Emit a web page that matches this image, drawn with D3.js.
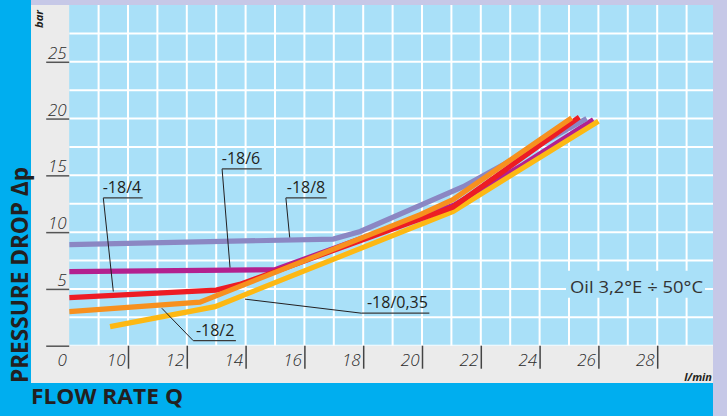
<!DOCTYPE html>
<html><head><meta charset="utf-8">
<script src="https://cdn.jsdelivr.net/npm/d3@7"></script>
<style>html,body{margin:0;padding:0;background:#c6c8e7;}svg{display:block;}</style>
</head><body>
<svg id="chart" width="727" height="416"></svg>
<script>
// ---- data (flow rate l/min, pressure drop bar) ----
const xTicks = [10, 12, 14, 16, 18, 20, 22, 24, 26, 28];
const yTicks = [0, 5, 10, 15, 20, 25];
const seriesNames = ["-18/8", "-18/6", "-18/4", "-18/2", "-18/0,35"];
const curve18_8   = [[8, 8.9], [16.98, 9.39], [17.9, 10.06], [21.4, 14.0], [25.6, 20.0]];
const curve18_6   = [[8, 6.53], [15.0, 6.7], [21.1, 12.4], [23.45, 15.95], [25.83, 19.9]];
const curve18_4   = [[8, 4.24], [13.0, 4.9], [13.8, 5.4], [21.05, 12.2], [25.35, 20.12]];
const curve18_2   = [[8, 3.0], [12.45, 3.83], [19.94, 11.54], [21.05, 12.86], [25.09, 20.07]];
const curve18_035 = [[9.39, 1.68], [12.96, 3.44], [21.06, 11.83], [26.0, 19.77]];
// annotation leaders: [point on curve, underline start, underline end]
const leader18_8   = [[15.5, 9.53], [15.37, 13.01], [16.76, 13.01]];
const leader18_6   = [[13.47, 6.88], [13.2, 15.57], [14.55, 15.57]];
const leader18_4   = [[9.5, 4.77], [9.16, 13.01], [10.5, 13.01]];
const leader18_2   = [[11.15, 3.3], [12.22, 0.44], [13.67, 0.44]];
const leader18_035 = [[13.98, 4.1], [17.95, 2.86], [20.25, 2.86]];
const oilNote = "Oil 3,2°E ÷ 50°C";

// ---- layout ----
const svg = d3.select("#chart");
const plot = {left: 69.2, right: 713, top: 5, bottom: 345.7};
const x = d3.scaleLinear().domain([8, 30]).range([69.2, 716.0]);
const y = d3.scaleLinear().domain([0, 30]).range([345.7, 5.0]);
const FONT = "'Open Sans', 'Noto Sans', sans-serif";
const INK = "#231f20";

// backgrounds
svg.append("rect").attr("x", 0).attr("y", 0).attr("width", 727).attr("height", 416).attr("fill", "#c6c8e7");
svg.append("rect").attr("x", 0).attr("y", 0).attr("width", 31).attr("height", 416).attr("fill", "#00aeef");
svg.append("rect").attr("x", 0).attr("y", 383).attr("width", 713).attr("height", 33).attr("fill", "#00aeef");
svg.append("rect").attr("x", 31).attr("y", 5).attr("width", 682).attr("height", 378).attr("fill", "#ebebeb");
svg.append("rect").attr("x", plot.left).attr("y", plot.top)
  .attr("width", plot.right - plot.left).attr("height", plot.bottom - plot.top).attr("fill", "#a9e0f8");

svg.append("clipPath").attr("id", "clip").append("rect")
  .attr("x", plot.left).attr("y", plot.top)
  .attr("width", plot.right - plot.left).attr("height", plot.bottom - plot.top);

// grid
const grid = svg.append("g").attr("clip-path", "url(#clip)");
const vGrid = d3.range(9, 31, 1);
const hGrid = d3.range(0, 30, 2.5);
grid.selectAll(".vg").data(vGrid).join("line")
  .attr("x1", d => x(d)).attr("x2", d => x(d)).attr("y1", plot.top).attr("y2", plot.bottom)
  .attr("stroke", "#fff").attr("stroke-width", 2);
grid.selectAll(".hg").data(hGrid).join("line")
  .attr("x1", plot.left).attr("x2", plot.right).attr("y1", d => y(d)).attr("y2", d => y(d))
  .attr("stroke", "#fff").attr("stroke-width", 2);

// oil note box (hides grid)
const oilBox = {q: 25.0, p: 6.6};
svg.append("rect").attr("x", x(oilBox.q) - 3).attr("y", y(oilBox.p))
  .attr("width", 139).attr("height", 27).attr("fill", "#a9e0f8");
svg.append("text").attr("x", x(oilBox.q) + 1).attr("y", y(oilBox.p) + 22)
  .attr("font-family", FONT).attr("font-size", 17).attr("fill", "#333")
  .attr("textLength", 133).attr("lengthAdjust", "spacingAndGlyphs")
  .text(oilNote);

// curves
const line = d3.line().x(d => x(d[0])).y(d => y(d[1]));
const curves = [
  {name: seriesNames[1], data: curve18_6, color: "#b3208f"},
  {name: seriesNames[0], data: curve18_8, color: "#8b87c3"},
  {name: seriesNames[4], data: curve18_035, color: "#fdb813"},
  {name: seriesNames[2], data: curve18_4, color: "#ed1c24"},
  {name: seriesNames[3], data: curve18_2, color: "#f7901e"}
];
const cg = svg.append("g").attr("clip-path", "url(#clip)");
cg.selectAll("path").data(curves).join("path")
  .attr("d", d => line(d.data)).attr("fill", "none")
  .attr("stroke", d => d.color).attr("stroke-width", 5.2)
  .attr("stroke-linejoin", "miter").attr("stroke-linecap", "butt");

// annotations
const leaders = [
  {name: seriesNames[0], pts: leader18_8},
  {name: seriesNames[1], pts: leader18_6},
  {name: seriesNames[2], pts: leader18_4},
  {name: seriesNames[3], pts: leader18_2},
  {name: seriesNames[4], pts: leader18_035}
];
const ag = svg.append("g");
leaders.forEach(l => {
  ag.append("line").attr("x1", x(l.pts[0][0])).attr("y1", y(l.pts[0][1]))
    .attr("x2", x(l.pts[1][0])).attr("y2", y(l.pts[1][1]))
    .attr("stroke", INK).attr("stroke-width", 1);
  ag.append("line").attr("x1", x(l.pts[1][0])).attr("y1", y(l.pts[1][1]))
    .attr("x2", x(l.pts[2][0])).attr("y2", y(l.pts[2][1]))
    .attr("stroke", "#3a3a3a").attr("stroke-width", 1.3);
  ag.append("text").attr("x", x(l.pts[2][0]) - 1.5).attr("y", y(l.pts[2][1]) - 5)
    .attr("text-anchor", "end").attr("font-family", FONT).attr("font-size", 16)
    .attr("fill", INK).text(l.name);
});

// y axis
const yAxis = d3.axisLeft(y).tickValues(yTicks).tickSize(23)
  .tickFormat(d => d === 0 ? "" : d);
const yg = svg.append("g").attr("transform", `translate(${plot.left},0)`).call(yAxis);
yg.select(".domain").remove();
yg.selectAll(".tick line").attr("stroke", "#555").attr("stroke-width", 1.5);
yg.selectAll(".tick text").attr("x", -2.5).attr("dy", -3.5)
  .attr("font-family", FONT).attr("font-size", 17).attr("font-style", "italic")
  .attr("font-weight", 300).attr("fill", "#2a2a2a");

// x axis
const xAxis = d3.axisBottom(x).tickValues(xTicks).tickSize(23);
const xg = svg.append("g").attr("transform", `translate(0,${plot.bottom})`).call(xAxis);
xg.select(".domain").remove();
xg.selectAll(".tick line").attr("stroke", "#444").attr("stroke-width", 1.5);
xg.selectAll(".tick text").attr("x", -3).attr("y", 20.3).attr("dy", 0)
  .attr("text-anchor", "end")
  .attr("font-family", FONT).attr("font-size", 17).attr("font-style", "italic")
  .attr("font-weight", 300).attr("fill", "#2a2a2a");
svg.append("text").attr("x", x(8) - 7).attr("y", y(0) + 20.3).attr("text-anchor", "middle")
  .attr("font-family", FONT).attr("font-size", 17).attr("font-style", "italic")
  .attr("font-weight", 300).attr("fill", "#2a2a2a").text("0");

// units
svg.append("text").attr("transform", "translate(43,28) rotate(-90)")
  .attr("font-family", FONT).attr("font-size", 11).attr("font-weight", 700)
  .attr("font-style", "italic").attr("fill", INK)
  .attr("textLength", 18).attr("lengthAdjust", "spacingAndGlyphs").text("bar");
svg.append("text").attr("x", 712).attr("y", 381).attr("text-anchor", "end")
  .attr("font-family", FONT).attr("font-size", 11).attr("font-weight", 700)
  .attr("font-style", "italic").attr("fill", INK).text("l/min");

// axis titles
svg.append("text").attr("transform", "translate(28,383) rotate(-90)")
  .attr("font-family", FONT).attr("font-size", 24).attr("font-weight", 700)
  .attr("fill", INK).attr("textLength", 216).attr("lengthAdjust", "spacingAndGlyphs")
  .text("PRESSURE DROP Δp");
svg.append("text").attr("x", 31).attr("y", 404)
  .attr("font-family", FONT).attr("font-size", 21).attr("font-weight", 700)
  .attr("fill", INK).attr("textLength", 152).attr("lengthAdjust", "spacingAndGlyphs")
  .text("FLOW RATE Q");
</script>
</body></html>
